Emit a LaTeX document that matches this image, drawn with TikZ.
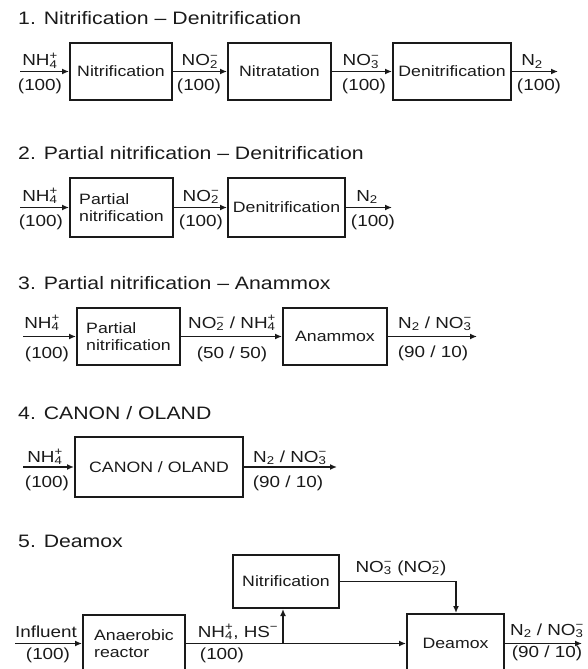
\documentclass[tikz,border=0pt]{standalone}
\usepackage{fontspec}
\setmainfont[FakeStretch=1.18]{Liberation Sans}
\usetikzlibrary{arrows.meta}
\newcommand{\ion}[2]{\setbox0\hbox{\textsuperscript{#2}}\setbox2\hbox{\textsubscript{#1}}\ifdim\wd0>\wd2\relax\rlap{\box2}\box0\relax\else\rlap{\box0}\box2\relax\fi}
\definecolor{ink}{HTML}{1A1A1A}
\tikzset{
  blk/.style={draw=ink, text=ink, line width=2pt, inner sep=0pt, font=\fontsize{15}{17}\selectfont},
  lbl/.style={anchor=base, inner sep=0pt, text=ink, font=\fontsize{16}{19}\selectfont},
  ttl/.style={anchor=base west, inner sep=0pt, text=ink, font=\fontsize{18}{22}\selectfont},
  flow/.style={draw=ink, line width=1.8pt, -{Latex[length=7pt,width=6pt]}}
}
\begin{document}
\begin{tikzpicture}[x=1pt, y=-1pt]
\useasboundingbox (0,0) rectangle (587,669);
\clip (0,0) rectangle (587,669);

% ---------- Row 1 ----------
\node[ttl] (t1) at (18,24.3) {1. Nitrification – Denitrification};
\node[blk, minimum width=102, minimum height=57] (n11) at (121,71.5) {Nitrification};
\node[blk, minimum width=103, minimum height=57] (n12) at (279.5,71.5) {Nitratation};
\node[blk, minimum width=118, minimum height=57] (n13) at (452,71.5) {Denitrification};
\coordinate (i1) at (20,71.5);
\coordinate (o1) at (558,71.5);
\draw[flow] (i1) -- (n11);
\draw[flow] (n11) -- (n12);
\draw[flow] (n12) -- (n13);
\draw[flow] (n13) -- (o1);
\node[lbl] (a11) at (40,66) {NH\ion{4}{+}};
\node[lbl] (b11) at (40,90) {(100)};
\node[lbl] (a12) at (200,66) {NO\ion{2}{−}};
\node[lbl] (b12) at (199,90) {(100)};
\node[lbl] (a13) at (361,66) {NO\ion{3}{−}};
\node[lbl] (b13) at (364,90) {(100)};
\node[lbl] (a14) at (532,66) {N\textsubscript{2}};
\node[lbl] (b14) at (539,90) {(100)};

% ---------- Row 2 ----------
\node[ttl] (t2) at (18,159) {2. Partial nitrification – Denitrification};
\node[blk, minimum width=103, minimum height=59, align=left] (n21) at (121.5,207.5) {Partial\\nitrification};
\node[blk, minimum width=117, minimum height=59] (n22) at (286.5,207.5) {Denitrification};
\coordinate (i2) at (20,207.5);
\coordinate (o2) at (392,207.5);
\draw[flow] (i2) -- (n21);
\draw[flow] (n21) -- (n22);
\draw[flow] (n22) -- (o2);
\node[lbl] (a21) at (40,201) {NH\ion{4}{+}};
\node[lbl] (b21) at (41,226) {(100)};
\node[lbl] (a22) at (201,201) {NO\ion{2}{−}};
\node[lbl] (b22) at (201,226) {(100)};
\node[lbl] (a23) at (367,201) {N\textsubscript{2}};
\node[lbl] (b23) at (373,226) {(100)};

% ---------- Row 3 ----------
\node[ttl] (t3) at (18,289) {3. Partial nitrification – Anammox};
\node[blk, minimum width=103, minimum height=57, align=left] (n31) at (128.5,336.5) {Partial\\nitrification};
\node[blk, minimum width=104, minimum height=57] (n32) at (335,336.5) {Anammox};
\coordinate (i3) at (23,336.5);
\coordinate (o3) at (477,336.5);
\draw[flow] (i3) -- (n31);
\draw[flow] (n31) -- (n32);
\draw[flow] (n32) -- (o3);
\node[lbl] (a31) at (42,328) {NH\ion{4}{+}};
\node[lbl] (b31) at (47,358) {(100)};
\node[lbl] (a32) at (232,328) {NO\ion{2}{−} / NH\ion{4}{+}};
\node[lbl] (b32) at (232,358) {(50 / 50)};
\node[lbl] (a33) at (435,328) {N\textsubscript{2} / NO\ion{3}{−}};
\node[lbl] (b33) at (433,357) {(90 / 10)};

% ---------- Row 4 ----------
\node[ttl] (t4) at (18,419) {4. CANON / OLAND};
\node[blk, minimum width=168, minimum height=60] (n41) at (159,467) {CANON / OLAND};
\coordinate (i4) at (23,467);
\coordinate (o4) at (337,467);
\draw[flow] (i4) -- (n41);
\draw[flow] (n41) -- (o4);
\node[lbl] (a41) at (45,462) {NH\ion{4}{+}};
\node[lbl] (b41) at (47,487) {(100)};
\node[lbl] (a42) at (290,462) {N\textsubscript{2} / NO\ion{3}{−}};
\node[lbl] (b42) at (288,487) {(90 / 10)};

% ---------- Row 5 ----------
\node[ttl] (t5) at (18,547) {5. Deamox};
\node[blk, minimum width=106, minimum height=53] (n51) at (286,581.5) {Nitrification};
\node[blk, minimum width=102, minimum height=58, align=left] (n52) at (134,643.5) {Anaerobic\\reactor};
\node[blk, minimum width=97, minimum height=59] (n53) at (455.5,643.5) {Deamox};
\coordinate (i5) at (15,643.5);
\coordinate (o5) at (582,643.5);
\coordinate (j5) at (283,643.5);
\coordinate (k5) at (456,581.5);
\draw[flow] (i5) -- (n52);
\draw[flow] (n52) -- (n53);
\draw[flow] (j5) -- (j5 |- n51.south);
\draw[flow] (n51.east) -- (k5) -- (k5 |- n53.north);
\draw[flow] (n53) -- (o5);
\node[lbl] (a51) at (46,637) {Influent};
\node[lbl] (b51) at (48,659) {(100)};
\node[lbl] (a52) at (238,637) {NH\ion{4}{+}, HS\textsuperscript{−}};
\node[lbl] (b52) at (222,659) {(100)};
\node[lbl] (a53) at (401,572) {NO\ion{3}{−} (NO\ion{2}{−})};
\node[lbl] (a54) at (547,635) {N\textsubscript{2} / NO\ion{3}{−}};
\node[lbl] (b54) at (547,657) {(90 / 10)};
\end{tikzpicture}
\end{document}
